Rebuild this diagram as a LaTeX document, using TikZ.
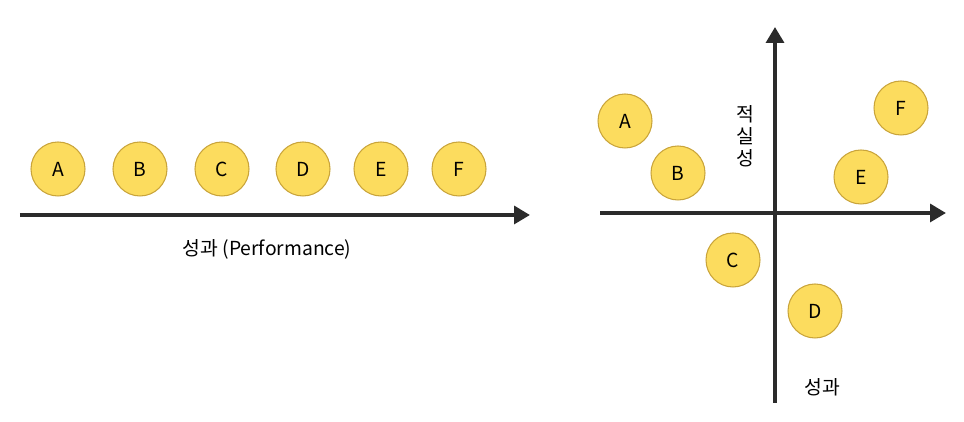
\documentclass[tikz,border=0pt]{standalone}
\usepackage{fontspec}
\setmainfont{Noto Sans CJK KR}
\usetikzlibrary{arrows.meta}
\definecolor{dotfill}{HTML}{FCDC5E}
\definecolor{dotline}{HTML}{C9A43A}
\definecolor{axisgray}{HTML}{2B2B2B}
\begin{document}
\begin{tikzpicture}[every node/.style={font=\fontsize{11}{13}\selectfont},
  dot/.style={circle,draw=dotline,fill=dotfill,line width=0.6pt,minimum size=1.08cm,inner sep=0pt},
  axis/.style={draw=axisgray,line width=2.8pt,-{Triangle[length=9pt,width=10pt]}}]
  \useasboundingbox (0,0) rectangle (19.28,8.44);
  % one axis
  \coordinate (l0) at (0.4,4.14);
  \coordinate (l1) at (10.6,4.14);
  \path[axis] (l0) -- (l1);
  \node (A) at (1.16,5.06) [dot] {A};
  \node (B) at (2.80,5.06) [dot] {B};
  \node (C) at (4.44,5.06) [dot] {C};
  \node (D) at (6.06,5.06) [dot] {D};
  \node (E) at (7.62,5.06) [dot] {E};
  \node (F) at (9.18,5.06) [dot] {F};
  \node (perf) at (5.34,3.46) {성과 (Performance)};
  % two axes
  \coordinate (h0) at (12.0,4.18);
  \coordinate (h1) at (18.92,4.18);
  \coordinate (v0) at (15.5,0.38);
  \coordinate (v1) at (15.5,7.9);
  \path[axis] (h0) -- (h1);
  \path[axis] (v0) -- (v1);
  \node (A2) at (12.5,6.02) [dot] {A};
  \node (B2) at (13.56,4.98) [dot] {B};
  \node (C2) at (14.66,3.24) [dot] {C};
  \node (D2) at (16.3,2.22) [dot] {D};
  \node (E2) at (17.22,4.9) [dot] {E};
  \node (F2) at (18.02,6.28) [dot] {F};
  \node (rel) at (14.9,5.72) [align=center,font=\fontsize{11}{12.5}\selectfont] {적\\실\\성};
  \node (perf2) at (16.44,0.7) {성과};
\end{tikzpicture}
\end{document}
